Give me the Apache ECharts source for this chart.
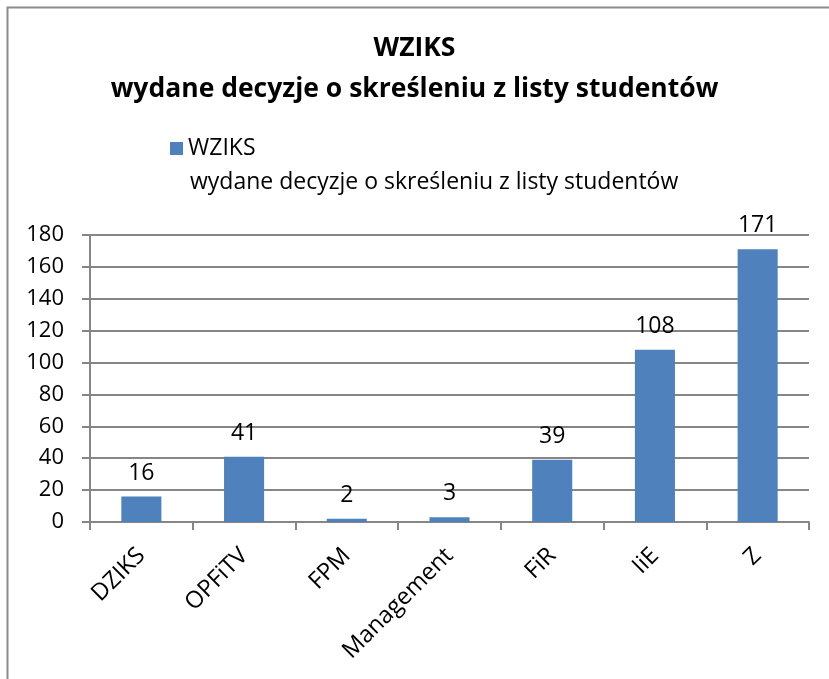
<!DOCTYPE html>
<html><head><meta charset="utf-8">
<script src="https://cdn.jsdelivr.net/npm/echarts@6/dist/echarts.min.js"></script>
<style>html,body{margin:0;padding:0;background:#fff}#c{width:829px;height:679px}</style>
</head><body><div id="c"></div>
<script>
const titleLines = ["WZIKS", "wydane decyzje o skreśleniu z listy studentów"];
const seriesName = "WZIKS\nwydane decyzje o skreśleniu z listy studentów";
const categories = ["DZIKS", "OPFiTV", "FPM", "Management", "FiR", "IiE", "Z"];
const values = [16, 41, 2, 3, 39, 108, 171];
const yTicks = {min: 0, max: 180, interval: 20};

const FONT = "'Open Sans', sans-serif";
const nameLines = seriesName.split('\n');
const chart = echarts.init(document.getElementById('c'), null, {renderer: 'canvas'});
chart.setOption({
  backgroundColor: '#fff',
  animation: false,
  graphic: [{
    type: 'rect', shape: {x: 7.5, y: 7.5, width: 840, height: 700},
    style: {fill: 'none', stroke: '#8c8c8c', lineWidth: 2}, silent: true
  }, {
    type: 'text', left: 190, top: 171, silent: true,
    style: {text: nameLines[1], fontFamily: FONT, fontSize: 23, fill: '#000'}
  }],
  title: {
    text: titleLines.join('\n'),
    left: 'center', top: 23,
    textStyle: {fontFamily: FONT, fontSize: 26.5, fontWeight: 'bold', color: '#000', lineHeight: 41}
  },
  legend: {
    left: 170, top: 137, padding: 0,
    itemWidth: 13, itemHeight: 13, itemGap: 8,
    icon: 'rect',
    data: [seriesName],
    formatter: function (n) { return n.split('\n')[0]; },
    textStyle: {fontFamily: FONT, fontSize: 23, color: '#000'}
  },
  grid: {left: 90, right: 20, top: 235, bottom: 157, containLabel: false},
  xAxis: {
    type: 'category', data: categories,
    axisLine: {lineStyle: {color: '#868686', width: 2}},
    axisTick: {show: true, length: 8, lineStyle: {color: '#868686', width: 2}},
    axisLabel: {rotate: 45, fontFamily: FONT, fontSize: 23.5, color: '#000', margin: 30, interval: 0}
  },
  yAxis: {
    type: 'value', min: yTicks.min, max: yTicks.max, interval: yTicks.interval,
    axisLine: {show: true, lineStyle: {color: '#868686', width: 2}},
    axisTick: {show: true, length: 8, lineStyle: {color: '#868686', width: 2}},
    axisLabel: {fontFamily: FONT, fontSize: 22, color: '#000', margin: 26},
    splitLine: {lineStyle: {color: '#868686', width: 2}}
  },
  series: [{
    name: seriesName, type: 'bar', data: values,
    barWidth: '39%',
    itemStyle: {color: '#4F81BD'},
    label: {show: true, position: 'top', distance: 12, fontFamily: FONT, fontSize: 23, color: '#000'}
  }]
});
</script></body></html>
